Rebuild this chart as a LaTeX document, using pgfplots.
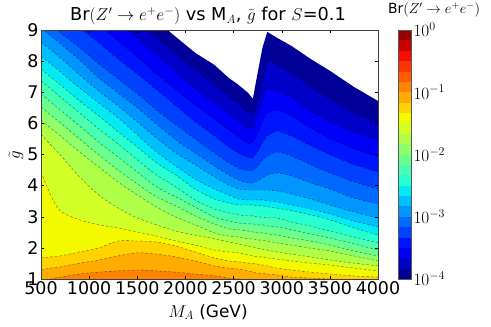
\documentclass[border=0pt]{standalone}
\usepackage{fontspec}
\setmainfont{DejaVu Sans}
\usepackage{pgfplots}
\usepackage{pgfplotstable}
\pgfplotsset{compat=1.18}

% jet, cut into 24 bands
\definecolor{band0}{rgb}{0,0,.595}
\definecolor{band1}{rgb}{0,0,.784}
\definecolor{band2}{rgb}{0,0,.974}
\definecolor{band3}{rgb}{0,.083,1}
\definecolor{band4}{rgb}{0,.25,1}
\definecolor{band5}{rgb}{0,.417,1}
\definecolor{band6}{rgb}{0,.583,1}
\definecolor{band7}{rgb}{0,.75,1}
\definecolor{band8}{rgb}{.014,.917,.955}
\definecolor{band9}{rgb}{.148,1,.82}
\definecolor{band10}{rgb}{.282,1,.685}
\definecolor{band11}{rgb}{.417,1,.551}
\definecolor{band12}{rgb}{.551,1,.417}
\definecolor{band13}{rgb}{.685,1,.282}
\definecolor{band14}{rgb}{.82,1,.148}
\definecolor{band15}{rgb}{.954,.979,0}
\definecolor{band16}{rgb}{1,.824,0}
\definecolor{band17}{rgb}{1,.669,0}
\definecolor{band18}{rgb}{1,.515,0}
\definecolor{band19}{rgb}{1,.361,0}
\definecolor{band20}{rgb}{1,.207,0}
\definecolor{band21}{rgb}{.974,.053,0}
\definecolor{band22}{rgb}{.784,0,0}
\definecolor{band23}{rgb}{.595,0,0}

% g-tilde of each contour level against M_A; values past the frame get clipped
\pgfplotstableread{
M c0 c1 c2 c3 c4 c5 c6 c7 c8 c9 c10 c11 c12 c13 c14 c15 c16 c17 c18
500 12.45 11.90 11.35 10.74 10.10 9.42 9.07 8.62 8.17 7.75 7.37 6.95 6.53 6.11 5.66 4.44 1.68 1.29 .90
600 12.19 11.64 11.10 10.48 9.84 9.17 8.81 8.36 7.91 7.49 7.11 6.69 6.27 5.85 5.31 3.70 1.71 1.35 1.00
700 11.93 11.38 10.84 10.23 9.58 8.91 8.56 8.11 7.66 7.24 6.85 6.43 6.02 5.60 4.99 3.19 1.74 1.39 1.06
900 11.38 10.84 10.29 9.68 9.07 8.43 8.04 7.56 7.14 6.72 6.34 5.92 5.50 5.08 4.28 2.90 1.87 1.51 1.16
1100 10.87 10.32 9.78 9.17 8.59 7.91 7.46 7.04 6.66 6.24 5.82 5.40 4.99 4.60 3.70 2.74 2.00 1.61 1.22
1300 10.36 9.78 9.26 8.65 8.07 7.43 6.98 6.56 6.18 5.73 5.34 4.92 4.50 4.12 3.28 2.64 2.22 1.74 1.26
1500 9.84 9.26 8.75 8.14 7.59 6.95 6.50 6.05 5.63 5.24 4.83 4.44 4.05 3.70 2.96 2.51 2.22 1.84 1.29
1700 9.29 8.75 8.20 7.59 7.08 6.43 5.98 5.53 5.08 4.73 4.34 3.96 3.64 3.31 2.74 2.38 2.19 1.80 1.26
1900 8.78 8.23 7.66 7.08 6.56 5.95 5.47 5.05 4.63 4.34 3.96 3.64 3.35 2.99 2.54 2.22 2.06 1.71 1.22
2100 8.27 7.72 7.11 6.59 6.05 5.50 5.05 4.67 4.21 3.89 3.54 3.31 3.03 2.74 2.41 2.09 1.87 1.58 1.16
2300 7.88 7.24 6.66 6.14 5.60 5.05 4.63 4.28 3.89 3.57 3.25 2.99 2.77 2.48 2.29 1.93 1.68 1.42 1.10
2450 7.46 6.85 6.34 5.79 5.24 4.73 4.34 4.02 3.70 3.44 3.12 2.86 2.61 2.38 2.19 1.87 1.58 1.35 1.03
2550 7.24 6.63 6.08 5.57 5.05 4.57 4.18 3.89 3.57 3.38 3.06 2.80 2.58 2.35 2.13 1.84 1.55 1.32 1.00
2650 6.98 6.37 5.82 5.34 4.89 4.47 4.09 3.86 3.54 3.38 3.03 2.77 2.54 2.29 2.06 1.77 1.51 1.26 .97
2700 6.79 6.27 5.89 5.37 4.89 4.50 4.09 3.86 3.54 3.38 3.03 2.77 2.51 2.29 2.03 1.74 1.51 1.22 .97
2750 7.62 6.66 6.27 5.66 5.08 4.63 4.15 3.86 3.54 3.35 2.99 2.74 2.48 2.25 1.99 1.71 1.48 1.19 .94
2800 8.43 7.40 6.75 6.05 5.37 4.83 4.25 3.86 3.54 3.35 2.99 2.74 2.48 2.25 1.96 1.71 1.45 1.19 .94
2850 8.94 8.01 7.14 6.34 5.60 4.95 4.34 3.86 3.51 3.32 2.96 2.70 2.45 2.22 1.93 1.68 1.42 1.16 .90
2950 8.75 7.88 7.04 6.43 5.76 5.08 4.41 3.83 3.48 3.28 2.96 2.67 2.41 2.16 1.87 1.64 1.35 1.13 .90
3100 8.49 7.62 6.85 6.24 5.60 4.95 4.31 3.73 3.38 3.19 2.83 2.58 2.32 2.09 1.80 1.58 1.29 1.06 .87
3300 8.07 7.17 6.40 5.85 5.28 4.67 4.09 3.57 3.25 3.06 2.70 2.45 2.22 1.99 1.71 1.51 1.22 1.03 .84
3500 7.69 6.79 6.05 5.50 4.99 4.41 3.89 3.38 3.09 2.90 2.54 2.32 2.09 1.90 1.61 1.45 1.16 1.00 .81
3750 7.17 6.34 5.73 5.18 4.67 4.12 3.60 3.15 2.86 2.64 2.35 2.13 1.90 1.74 1.51 1.35 1.10 .94 .74
4000 6.72 6.02 5.47 4.92 4.44 3.89 3.41 2.96 2.67 2.41 2.16 1.93 1.74 1.58 1.42 1.26 1.06 .87 .64
}\contours

% colorbar band: on a log axis \closedcycle closes at 10^0, so paint bottom up
\newcommand{\cbband}[2]{\addplot[fill=band#1, draw=none] coordinates {(0,#2) (1,#2)} \closedcycle;}

\begin{document}
\begin{tikzpicture}
\path[use as bounding box] (0,0) rectangle (491bp,327bp);

\begin{axis}[
  name=main,
  at={(41bp,48bp)}, anchor=south west,
  scale only axis, width=337bp, height=249bp,
  xmin=500, xmax=4000, ymin=1, ymax=9,
  xtick={500,1000,...,4000}, ytick={1,...,9},
  tick align=inside, major tick length=3bp,
  tick style={black, line width=.4pt},
  axis line style={line width=.7pt, black!75},
  /pgf/number format/assume math mode=true,
  /pgf/number format/1000 sep={},
  tick label style={font=\fontsize{17.5}{18}\selectfont},
  xticklabel style={yshift=1bp},
  yticklabel style={xshift=1bp},
  axis on top,
]
% the upper levels keep their sharp dip and peak near 2800 GeV
\pgfplotsinvokeforeach{0,...,4}{
  \addplot[fill=band#1, draw=none] table[x=M, y=c#1] {\contours} \closedcycle;
}
\pgfplotsinvokeforeach{5,...,18}{
  \addplot[fill=band#1, draw=none, smooth, tension=.5] table[x=M, y=c#1] {\contours} \closedcycle;
}
\pgfplotsinvokeforeach{1,...,4}{
  \addplot[black, opacity=.55, line width=.4pt, dash pattern=on 2.6bp off 2bp] table[x=M, y=c#1] {\contours};
}
\pgfplotsinvokeforeach{5,...,18}{
  \addplot[black, opacity=.55, line width=.4pt, dash pattern=on 2.6bp off 2bp, smooth, tension=.5] table[x=M, y=c#1] {\contours};
}
\end{axis}

\begin{axis}[
  name=cbar,
  at={(398bp,48bp)}, anchor=south west,
  scale only axis, width=13bp, height=249bp,
  xmin=0, xmax=1, ymode=log, ymin=1e-4, ymax=1,
  xtick=\empty, ytick={1e-4,1e-3,1e-2,1e-1,1},
  yticklabel pos=right, minor y tick num=0,
  ymajorticks=true, yminorticks=false,
  tick align=inside, major tick length=0bp,
  axis line style={line width=.8pt, black!65},
  tick label style={font=\fontsize{16.5}{18}\selectfont},
  yticklabel style={xshift=-1bp},
  log basis y=10,
  axis on top,
]
\cbband{0}{.0001}
\cbband{1}{.0001468}
\cbband{2}{.0002154}
\cbband{3}{.0003162}
\cbband{4}{.0004642}
\cbband{5}{.0006813}
\cbband{6}{.001}
\cbband{7}{.001468}
\cbband{8}{.002154}
\cbband{9}{.003162}
\cbband{10}{.004642}
\cbband{11}{.006813}
\cbband{12}{.01}
\cbband{13}{.01468}
\cbband{14}{.02154}
\cbband{15}{.03162}
\cbband{16}{.04642}
\cbband{17}{.06813}
\cbband{18}{.1}
\cbband{19}{.1468}
\cbband{20}{.2154}
\cbband{21}{.3162}
\cbband{22}{.4642}
\cbband{23}{.6813}
\end{axis}

\node[font=\fontsize{17.8}{20}\selectfont] at (208bp,311bp) {Br$(Z'\to e^{+}e^{-})$ vs M$_{A}$, $\tilde{g}$ for $S$=0.1};
\node[font=\fontsize{17}{18}\selectfont] at (208bp,15bp) {$M_{A}$ (GeV)};
\node[font=\fontsize{18}{18}\selectfont, rotate=90] at (16bp,172bp) {$\tilde{g}$};
\node[font=\fontsize{14}{15}\selectfont] at (434bp,317bp) {Br$(Z'\to e^{+}e^{-})$};
\end{tikzpicture}
\end{document}
